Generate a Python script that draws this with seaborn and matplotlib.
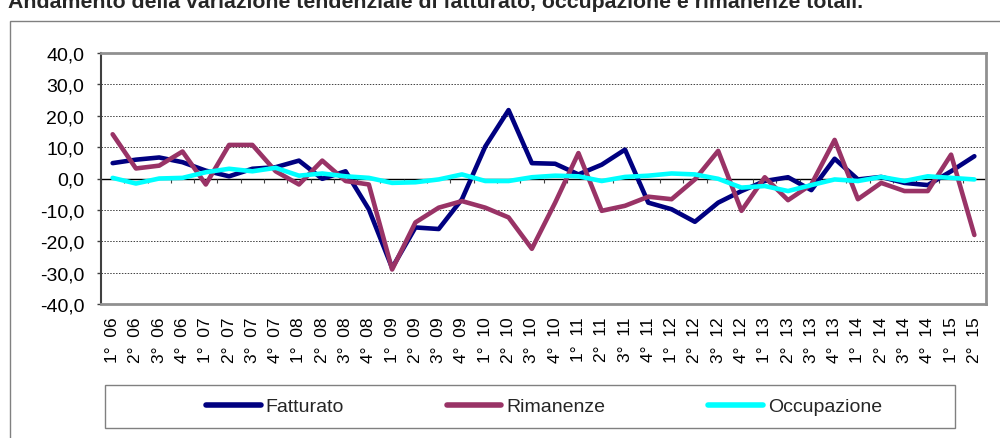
import numpy as np
import pandas as pd
import matplotlib
matplotlib.use("Agg")
import matplotlib.pyplot as plt
import seaborn as sns
from matplotlib.patches import Rectangle

# Dati: variazione tendenziale (%)
trimestri = ["1° 06", "2° 06", "3° 06", "4° 06", "1° 07", "2° 07", "3° 07", "4° 07",
             "1° 08", "2° 08", "3° 08", "4° 08", "1° 09", "2° 09", "3° 09", "4° 09",
             "1° 10", "2° 10", "3° 10", "4° 10", "1° 11", "2° 11", "3° 11", "4° 11",
             "1° 12", "2° 12", "3° 12", "4° 12", "1° 13", "2° 13", "3° 13", "4° 13",
             "1° 14", "2° 14", "3° 14", "4° 14", "1° 15", "2° 15"]

fatturato = [4.9, 6.0, 6.7, 5.2, 2.5, 0.7, 3.1, 3.6, 5.7, -0.1, 2.3, -9.8,
             -28.5, -15.6, -16.1, -6.6, 10.2, 21.8, 4.9, 4.7, 1.3, 4.4, 9.2, -7.7,
             -9.8, -13.8, -7.7, -4.0, -0.8, 0.4, -3.7, 6.3, -0.3, 0.5, -1.4, -2.1,
             2.3, 7.1]

rimanenze = [14.1, 3.2, 4.1, 8.6, -1.9, 10.7, 10.7, 2.3, -1.9, 5.7, -0.8, -1.9,
             -29.0, -14.0, -9.3, -7.2, -9.3, -12.4, -22.4, -7.7, 8.1, -10.3, -8.7, -5.8,
             -6.6, -0.3, 8.8, -10.3, 0.4, -6.9, -1.9, 12.3, -6.6, -1.4, -4.0, -4.0,
             7.6, -18.0]

occupazione = [0.2, -1.6, 0.0, 0.2, 2.0, 3.1, 2.3, 3.4, 0.9, 1.6, 0.7, 0.2,
               -1.4, -1.2, -0.3, 1.3, -0.8, -0.8, 0.4, 0.9, 0.7, -0.8, 0.5, 0.9,
               1.6, 1.3, -0.1, -2.9, -2.4, -4.0, -2.1, -0.3, -0.8, 0.5, -0.8, 0.7,
               0.2, -0.3]

serie = ["Fatturato", "Rimanenze", "Occupazione"]
colori = ["#000080", "#993366", "#00FFFF"]

df = pd.DataFrame({"pos": np.arange(len(trimestri)), "Fatturato": fatturato,
                   "Rimanenze": rimanenze, "Occupazione": occupazione})
df_long = df.melt(id_vars="pos", value_vars=serie, var_name="serie", value_name="valore")

sns.set_theme(style="white")
plt.rcParams["font.family"] = ["Liberation Sans", "DejaVu Sans"]

fig = plt.figure(figsize=(10, 4.39), dpi=100)
ax = fig.add_axes([0.101, 1 - 305 / 439, 0.885, 251 / 439])

sns.lineplot(data=df_long, x="pos", y="valore", hue="serie", hue_order=serie,
             palette=colori, linewidth=3.3, ax=ax, legend=False, sort=False,
             zorder=3)

ax.set_xlim(-0.5, len(trimestri) - 0.5)
ax.set_ylim(-40, 40)
ax.set_yticks(np.arange(-40, 41, 10))
ax.set_yticklabels([f"{v:.1f}".replace(".", ",") for v in np.arange(-40, 41, 10)],
                   fontsize=14, color="black")
ax.set_xticks(np.arange(len(trimestri)))
ax.set_xticklabels([t.replace(" ", "  ") for t in trimestri], rotation=90,
                   fontsize=12.5, color="black")
ax.tick_params(axis="x", length=0, pad=9)
ax.tick_params(axis="y", length=3, width=1, color="#404040", direction="out", pad=9,
               left=True)
ax.set_xlabel("")
ax.set_ylabel("")

# griglia tratteggiata
for v in [-30, -20, -10, 10, 20, 30]:
    ax.axhline(v, color="#404040", linestyle=(0, (1.5, 1.5)), linewidth=0.7, zorder=1)
ax.axhline(0, color="black", linewidth=1, zorder=2)
ax.vlines(np.arange(-0.5, len(trimestri)), -1.3, 0, color="#404040", linewidth=0.8, zorder=2)

for s in ["top", "right", "bottom"]:
    ax.spines[s].set_color("#909090")
    ax.spines[s].set_linewidth(2)
ax.spines["left"].set_color("#404040")
ax.spines["left"].set_linewidth(1.5)

# bordo esterno del grafico
fig.patches.append(Rectangle((10 / 1000, -0.05), 1.0, 1 - 22 / 439 + 0.05,
                             transform=fig.transFigure, fill=False,
                             edgecolor="#808080", linewidth=1))

# riquadro legenda
fig.patches.append(Rectangle((105 / 1000, 1 - 429 / 439), 850 / 1000, 43 / 439,
                             transform=fig.transFigure, fill=False,
                             edgecolor="#808080", linewidth=1))
handles = [plt.Line2D([], [], color=c, linewidth=4, solid_capstyle="round") for c in colori]
fig.legend(handles, serie, loc="center", bbox_to_anchor=(544 / 1000, 1 - 407.5 / 439),
           ncol=3, frameon=False, fontsize=14, handlelength=2.8,
           handletextpad=0.25, columnspacing=5.3)

fig.text(0.008, 1 - 3 / 439, "Andamento della variazione tendenziale di fatturato, "
         "occupazione e rimanenze totali.", fontsize=15.3, fontweight="bold",
         va="center", ha="left")

fig.savefig("out.png", dpi=100)
